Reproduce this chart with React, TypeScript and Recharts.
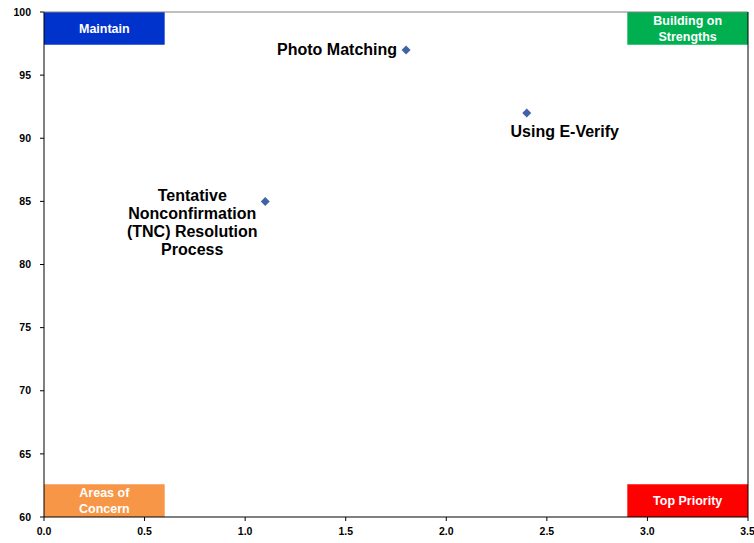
import React from 'react';
import { ScatterChart, Scatter, XAxis, YAxis, ReferenceArea, ReferenceLine } from 'recharts';

const issueNames = ['Photo Matching', 'Using E-Verify', 'Tentative Nonconfirmation (TNC) Resolution Process'];
const xValues = [1.8, 2.4, 1.1];
const yValues = [97, 92, 85];
const xTicks = [0, 0.5, 1.0, 1.5, 2.0, 2.5, 3.0, 3.5];
const yTicks = [60, 65, 70, 75, 80, 85, 90, 95, 100];

const quadrantNames = ['Maintain', 'Building on Strengths', 'Areas of Concern', 'Top Priority'];
const quadrantX1 = [0, 2.9, 0, 2.9];
const quadrantX2 = [0.6, 3.5, 0.6, 3.5];
const quadrantY1 = [97.4, 97.4, 60, 60];
const quadrantY2 = [100, 100, 62.6, 62.6];
const quadrantLines = [['Maintain'], ['Building on', 'Strengths'], ['Areas of', 'Concern'], ['Top Priority']];
const quadrantColors = ['#0033CC', '#00B050', '#F79646', '#FF0000'];

const data = issueNames.map((name, i) => ({ name, x: xValues[i], y: yValues[i] }));

const labelLayout: Record<string, { lines: string[]; dx: number; dy: number; anchor: string }> = {
  'Photo Matching': { lines: ['Photo Matching'], dx: -9, dy: 0, anchor: 'end' },
  'Using E-Verify': { lines: ['Using E-Verify'], dx: 38, dy: 18, anchor: 'middle' },
  'Tentative Nonconfirmation (TNC) Resolution Process': {
    lines: ['Tentative', 'Nonconfirmation', '(TNC) Resolution', 'Process'],
    dx: -73,
    dy: -6,
    anchor: 'middle',
  },
};

const FONT = '"Liberation Sans", Arial, sans-serif';

const PointShape = (props: any) => {
  const { cx, cy, payload } = props;
  const r = 4.5;
  const lay = labelLayout[payload.name];
  return (
    <g>
      <polygon points={`${cx},${cy - r} ${cx + r},${cy} ${cx},${cy + r} ${cx - r},${cy}`} fill="#4063A8" />
      {lay && (
        <text
          x={cx + lay.dx}
          y={cy + lay.dy}
          textAnchor={lay.anchor as any}
          fontFamily={FONT}
          fontWeight="bold"
          fontSize={16}
          fill="#000"
        >
          {lay.lines.map((l, i) => (
            <tspan key={i} x={cx + lay.dx} dy={i === 0 ? '0.35em' : 18}>
              {l}
            </tspan>
          ))}
        </text>
      )}
    </g>
  );
};

const makeQuadLabel = (lines: string[]) => (props: any) => {
  const vb = props.viewBox;
  const cx = vb.x + vb.width / 2;
  const cy = vb.y + vb.height / 2;
  const lh = 16;
  const start = cy - ((lines.length - 1) * lh) / 2;
  return (
    <text textAnchor="middle" fontFamily={FONT} fontWeight="bold" fontSize={12.5} fill="#fff">
      {lines.map((l, i) => (
        <tspan key={i} x={cx} y={start + i * lh} dy="0.35em">
          {l}
        </tspan>
      ))}
    </text>
  );
};

export default function App() {
  return (
    <div style={{ position: 'absolute', left: 0, top: 0, width: 754, height: 543, background: '#fff' }}>
      <ScatterChart width={754} height={543} margin={{ top: 12, right: 6, bottom: 0, left: 0 }}>
        <XAxis
          type="number"
          dataKey="x"
          domain={[0, 3.5]}
          ticks={xTicks}
          tickFormatter={(v: number) => v.toFixed(1)}
          height={26}
          tickSize={4}
          tickMargin={7}
          axisLine={{ stroke: '#000' }}
          tickLine={{ stroke: '#000' }}
          tick={{ fontFamily: FONT, fontWeight: 'bold', fontSize: 10.5, fill: '#000' }}
          allowDataOverflow
        />
        <YAxis
          type="number"
          dataKey="y"
          domain={[60, 100]}
          ticks={yTicks}
          width={44}
          tickSize={4}
          tickMargin={9}
          axisLine={{ stroke: '#000' }}
          tickLine={{ stroke: '#000' }}
          tick={{ fontFamily: FONT, fontWeight: 'bold', fontSize: 10.5, fill: '#000' }}
          allowDataOverflow
        />
        <ReferenceLine y={100} stroke="#808080" strokeWidth={1} />
        <ReferenceLine x={3.5} stroke="#000" strokeWidth={1} />
        {quadrantNames.map((n, i) => (
          <ReferenceArea
            key={n}
            x1={quadrantX1[i]}
            x2={quadrantX2[i]}
            y1={quadrantY1[i]}
            y2={quadrantY2[i]}
            fill={quadrantColors[i]}
            fillOpacity={1}
            stroke="none"
            label={makeQuadLabel(quadrantLines[i])}
          />
        ))}
        <Scatter data={data} shape={PointShape} isAnimationActive={false} />
      </ScatterChart>
    </div>
  );
}
